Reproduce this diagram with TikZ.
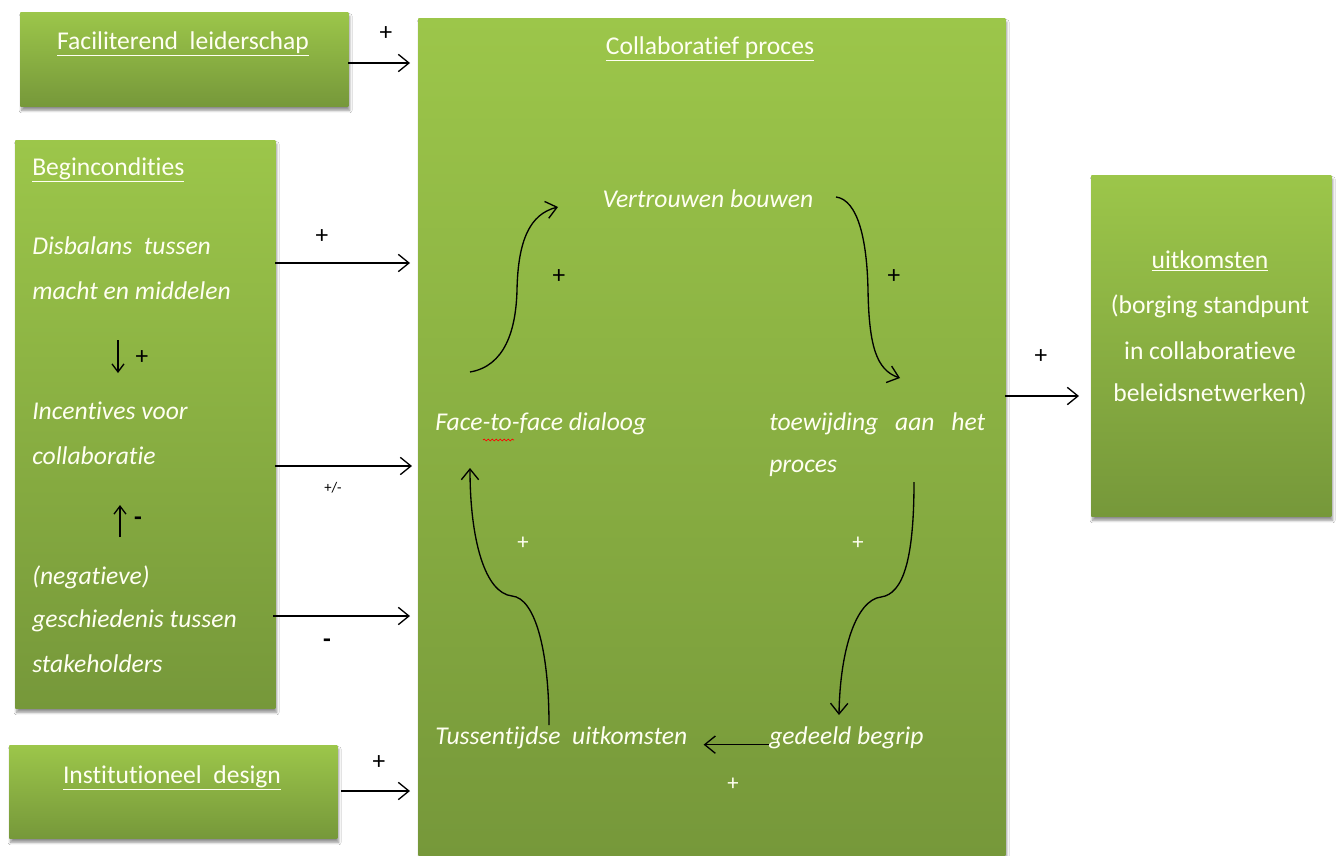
\documentclass[tikz,border=0pt]{standalone}
\usepackage{fontspec}
\setmainfont{Carlito}[Ligatures=NoCommon]
\usetikzlibrary{arrows.meta,shadows.blur,decorations.pathmorphing,calc}
\definecolor{gtop}{HTML}{9CC64A}
\definecolor{gbot}{HTML}{76983A}
\definecolor{txt}{HTML}{FFFFF2}
\begin{document}
\begin{tikzpicture}[x=0.75pt,y=-0.75pt,
  box/.style={draw=none, top color=gtop, bottom color=gbot, inner sep=0pt, anchor=north west,
    blur shadow={shadow xshift=1pt,shadow yshift=-3pt,shadow blur steps=6,shadow opacity=45}},
  lbl/.style={text=txt, font=\fontsize{19.2}{22}\selectfont, inner sep=0pt},
  ilbl/.style={text=txt, font=\fontsize{19.2}{22}\selectfont\itshape, inner sep=0pt},
  sign/.style={text=black, font=\fontsize{19}{22}\selectfont, inner sep=0pt},
  wsign/.style={text=txt, font=\fontsize{17}{20}\selectfont, inner sep=0pt},
  conn/.style={-{Straight Barb[length=8pt,width=13pt]}, line width=1pt, black},
  sconn/.style={-{Straight Barb[length=6pt,width=9pt]}, line width=1pt, black},
]
\fill[white] (0,0) rectangle (1338,856);
\useasboundingbox (0,0) rectangle (1338,856);

% boxes
\node[box, minimum width=246pt, minimum height=70.5pt] (fac) at (20,12) {};
\node[box, minimum width=195pt, minimum height=426pt] (bc) at (15,140) {};
\node[box, minimum width=246pt, minimum height=69.75pt] (inst) at (9,745) {};
\node[box, minimum width=440.25pt, minimum height=628.5pt] (collab) at (418,18) {};
\node[box, minimum width=180pt, minimum height=255.75pt] (out) at (1091,175) {};

% box texts
\node[lbl] (tfac) at (183,44) {\underline{Faciliterend\ \ leiderschap}};
\node[lbl] (tinst) at (172,778) {\underline{Institutioneel\ \ design}};
\node[lbl, anchor=west] (tbc) at (32,170) {\underline{Begincondities}};
\node[ilbl, anchor=west] (dis1) at (32,246) {Disbalans\ \ tussen};
\node[ilbl, anchor=west] (dis2) at (32,291) {macht en middelen};
\node[ilbl, anchor=west] (inc1) at (32,411) {Incentives voor};
\node[ilbl, anchor=west] (inc2) at (32,456) {collaboratie};
\node[ilbl, anchor=west] (neg1) at (32,577) {(negatieve)};
\node[ilbl, anchor=west] (neg2) at (32,621) {geschiedenis tussen};
\node[ilbl, anchor=west] (neg3) at (32,664) {stakeholders};

\node[lbl] (o1) at (1210,261) {\underline{uitkomsten}};
\node[lbl] (o2) at (1210,306) {(borging standpunt};
\node[lbl] (o3) at (1210,351) {in collaboratieve};
\node[lbl] (o4) at (1210,394) {beleidsnetwerken)};

% inline arrows in Begincondities
\coordinate (d1) at (118,340);
\coordinate (d2) at (118,373);
\draw[sconn] (d1) -- (d2);
\node[sign] (sd) at (142,358) {+};
\coordinate (u1) at (120,537);
\coordinate (u2) at (120,505);
\draw[sconn] (u1) -- (u2);
\node[sign, font=\fontsize{19}{22}\selectfont\bfseries] (su) at (138,521) {-};

% arrows into collaboratief proces
\coordinate (a1) at (348,63);
\coordinate (a2) at (275,263);
\coordinate (a3) at (275,466);
\coordinate (a4) at (273,616);
\coordinate (a5) at (341,791);
\draw[conn, shorten >=6pt] (a1) -- (a1 -| collab.west);
\draw[conn, shorten >=6pt] (a2) -- (a2 -| collab.west);
\draw[conn, shorten >=4.5pt] (a3) -- (a3 -| collab.west);
\draw[conn, shorten >=6pt] (a4) -- (a4 -| collab.west);
\draw[conn, shorten >=6pt] (a5) -- (a5 -| collab.west);
\node[sign] (s1) at (386,34) {+};
\node[sign] (s2) at (322,237) {+};
\node[sign, font=\fontsize{11}{13}\selectfont] (s3) at (333,488) {+/-};
\node[sign, font=\fontsize{19}{22}\selectfont\bfseries] (s4) at (327,643) {-};
\node[sign] (s5) at (379,763) {+};

% out arrow
\coordinate (a6) at (1005,396);
\draw[conn, shorten >=9pt] (a6) -- (a6 -| out.west);
\node[sign] (s6) at (1041,357) {+};

% collaboratief proces contents
\node[lbl] (cp) at (710,49) {\underline{Collaboratief proces}};
\node[ilbl] (vb) at (708,199) {Vertrouwen bouwen};
\node[ilbl, anchor=west] (ff) at (435,424) {Face-to-face dialoog};
\node[ilbl, anchor=west] (tw) at (769,424) {\hbox to 162pt{toewijding\hfill aan\hfill het}};
\node[ilbl, anchor=west] (pr) at (769,468) {proces};
\node[ilbl, anchor=west] (tu) at (435,738) {Tussentijdse\ \ uitkomsten};
\node[ilbl, anchor=west] (gb) at (769,738) {gedeeld begrip};

\draw[red, line width=0.5pt, decorate, decoration={snake, amplitude=0.7pt, segment length=3pt}] (483,440) -- (514,440);

% cycle curves
\coordinate (c1s) at (470,372);
\coordinate (c1e) at (558,207);
\draw[conn] (c1s) .. controls (505,366) and (516,330) .. (517,290) .. controls (518,240) and (530,214) .. (c1e);
\coordinate (c2s) at (836,197);
\coordinate (c2e) at (900,378);
\draw[conn] (c2s) .. controls (858,200) and (867,240) .. (868,290) .. controls (869,345) and (876,370) .. (c2e);
\coordinate (c3s) at (914,482);
\coordinate (c3e) at (839,715);
\draw[conn] (c3s) .. controls (914,560) and (903,594) .. (881,597) .. controls (856,600) and (840,650) .. (c3e);
\coordinate (c4s) at (549,725);
\coordinate (c4e) at (470,468);
\draw[conn] (c4s) .. controls (549,650) and (535,598) .. (512,596) .. controls (485,593) and (470,540) .. (c4e);
\draw[conn] ([yshift=-5pt]gb.west) -- ([yshift=-5pt,xshift=12pt]tu.east);

\node[sign] (p1) at (559,277) {+};
\node[sign] (p2) at (894,277) {+};
\node[wsign] (p3) at (523,543) {+};
\node[wsign] (p4) at (858,543) {+};
\node[wsign] (p5) at (733,784) {+};
\end{tikzpicture}
\end{document}
